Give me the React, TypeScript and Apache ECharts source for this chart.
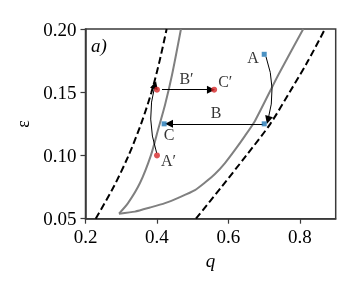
import React, { useEffect, useRef } from "react";
import * as echarts from "echarts";

// axis ticks
const xTicks = [0.2, 0.4, 0.6, 0.8];
const yTicks = [0.05, 0.1, 0.15, 0.2];

// dashed boundary curves
const dashLeftQ = [0.2285, 0.2785, 0.3205, 0.3555, 0.3845, 0.4075, 0.427];
const dashLeftE = [0.05, 0.075, 0.1, 0.125, 0.15, 0.175, 0.2];
const dashRightQ = [0.509, 0.58, 0.65, 0.717, 0.771, 0.823, 0.87];
const dashRightE = [0.05, 0.075, 0.1, 0.125, 0.15, 0.175, 0.2];

// gray region outline: left branch (top -> tip) and lower/right branch (tip -> top)
const grayLeftQ = [0.4671, 0.442, 0.4224, 0.4028, 0.3832, 0.3524, 0.3189, 0.2937];
const grayLeftE = [0.2, 0.1636, 0.1399, 0.1201, 0.1003, 0.0782, 0.0623, 0.054];
const grayRightQ = [0.2937, 0.3385, 0.3804, 0.4224, 0.4643, 0.5063, 0.5343, 0.5622, 0.5902, 0.6182, 0.6462, 0.6741, 0.7393, 0.8092];
const grayRightE = [0.054, 0.0556, 0.0588, 0.0623, 0.0671, 0.0726, 0.0786, 0.0853, 0.094, 0.1044, 0.1155, 0.1273, 0.1636, 0.2];

// marked points
const blueNames = ["A", "B", "C"];
const blueQ = [0.7, 0.7, 0.42];
const blueE = [0.18, 0.125, 0.125];
const redNames = ["A′", "B′", "C′"];
const redQ = [0.4, 0.4, 0.56];
const redE = [0.1, 0.152, 0.152];

// arrows
const arrowNames = ["", "B", "", "B′"];
const arrowFrom = [[0.705, 0.178], [0.6965, 0.125], [0.399, 0.102], [0.414, 0.152]];
const arrowTo = [[0.7105, 0.128], [0.4336, 0.125], [0.3944, 0.1557], [0.551, 0.152]];
const arrowCurve = [0.16, 0, 0.15, 0];

const FONT = "Liberation Serif";
const AX = "#3a3a3a";

export default function App() {
  const ref = useRef<HTMLDivElement>(null);
  useEffect(() => {
    if (!ref.current) return;
    const chart = echarts.init(ref.current, undefined, { renderer: "svg" });
    const zip = (a: number[], b: number[]) => a.map((v, i) => [v, b[i]]);
    const blueLabelPos: any[] = [
      { position: "left", distance: 3, offset: [0, 3] },
      { show: false },
      { position: "bottom", distance: 0, offset: [5, 0] },
    ];
    const redLabelPos: any[] = [
      { position: "right", distance: 1, offset: [0, 5] },
      { show: false },
      { position: "right", distance: 1, offset: [0, -8] },
    ];
    const labelStyle = { fontFamily: FONT, fontSize: 16, color: "#000" };
    const grayStyle = { color: "#808080", width: 2 };
    const dashStyle = { color: "#000", width: 2, type: [7, 3.5] };
    const option: any = {
      animation: false,
      grid: {
        left: 85.5, right: 21.3, top: 29, bottom: 73.3,
        show: true, borderColor: AX, borderWidth: 1.5, containLabel: false,
        outerBoundsMode: "none",
      },
      xAxis: {
        type: "value", min: 0.2, max: 0.9, interval: 0.2,
        axisLine: { show: true, lineStyle: { color: AX, width: 1.5 } },
        axisTick: { show: true, inside: false, length: 5, lineStyle: { color: AX, width: 1.2 }, customValues: xTicks },
        axisLabel: { customValues: xTicks, formatter: (v: number) => v.toFixed(1), color: "#000", fontFamily: FONT, fontSize: 19, margin: 8 },
        splitLine: { show: false },
        name: "q", nameLocation: "middle", nameGap: 32,
        nameTextStyle: { fontFamily: FONT, fontStyle: "italic", fontSize: 19, color: "#000" },
      },
      yAxis: {
        type: "value", min: 0.05, max: 0.2, interval: 0.05,
        axisLine: { show: true, lineStyle: { color: AX, width: 1.5 } },
        axisTick: { show: true, inside: false, length: 5, lineStyle: { color: AX, width: 1.2 }, customValues: yTicks },
        axisLabel: { customValues: yTicks, formatter: (v: number) => v.toFixed(2), color: "#000", fontFamily: FONT, fontSize: 19, margin: 9 },
        splitLine: { show: false },
        name: "ε", nameLocation: "middle", nameGap: 52, nameRotate: 90,
        nameTextStyle: { fontFamily: FONT, fontSize: 18, color: "#000" },
      },
      graphic: [
        { type: "text", left: 91, top: 36, style: { text: "a)", font: `italic 19px '${FONT}'`, fill: "#000" } },
      ],
      series: [
        { type: "line", data: zip(grayLeftQ, grayLeftE), showSymbol: false, symbol: "none", smooth: 0.25, lineStyle: grayStyle, z: 2 },
        { type: "line", data: zip(grayRightQ, grayRightE), showSymbol: false, symbol: "none", smooth: 0.2, lineStyle: grayStyle, z: 2 },
        { type: "line", data: zip(dashLeftQ, dashLeftE), showSymbol: false, symbol: "none", smooth: 0.3, lineStyle: dashStyle, z: 3 },
        { type: "line", data: zip(dashRightQ, dashRightE), showSymbol: false, symbol: "none", smooth: 0.3, lineStyle: dashStyle, z: 3 },
        {
          type: "lines", coordinateSystem: "cartesian2d", symbol: ["none", "triangle"], symbolSize: [6, 8],
          lineStyle: { color: "#000", width: 1, opacity: 1 }, z: 4,
          data: arrowFrom.map((f, i) => ({ coords: [f, arrowTo[i]], lineStyle: { curveness: arrowCurve[i] } })),
        },
        {
          type: "scatter", symbolSize: 0, z: 5,
          data: arrowFrom.map((f, i) => ({
            name: arrowNames[i],
            value: [(f[0] + arrowTo[i][0]) / 2, (f[1] + arrowTo[i][1]) / 2],
          })),
          label: { show: true, position: "top", distance: 3, formatter: (p: any) => p.name, ...labelStyle },
        },
        {
          type: "scatter", symbol: "rect", symbolSize: 5, itemStyle: { color: "#1f77b4" }, z: 6,
          data: blueNames.map((n, i) => ({ name: n, value: [blueQ[i], blueE[i]], label: blueLabelPos[i] })),
          label: { show: true, formatter: (p: any) => p.name, ...labelStyle },
        },
        {
          type: "scatter", symbol: "circle", symbolSize: 6, itemStyle: { color: "#d62728" }, z: 6,
          data: redNames.map((n, i) => ({ name: n, value: [redQ[i], redE[i]], label: redLabelPos[i] })),
          label: { show: true, formatter: (p: any) => p.name, ...labelStyle },
        },
      ],
    };
    chart.setOption(option);
    return () => chart.dispose();
  }, []);
  return <div ref={ref} style={{ position: "fixed", left: 0, top: 0, width: 357, height: 292 }} />;
}
